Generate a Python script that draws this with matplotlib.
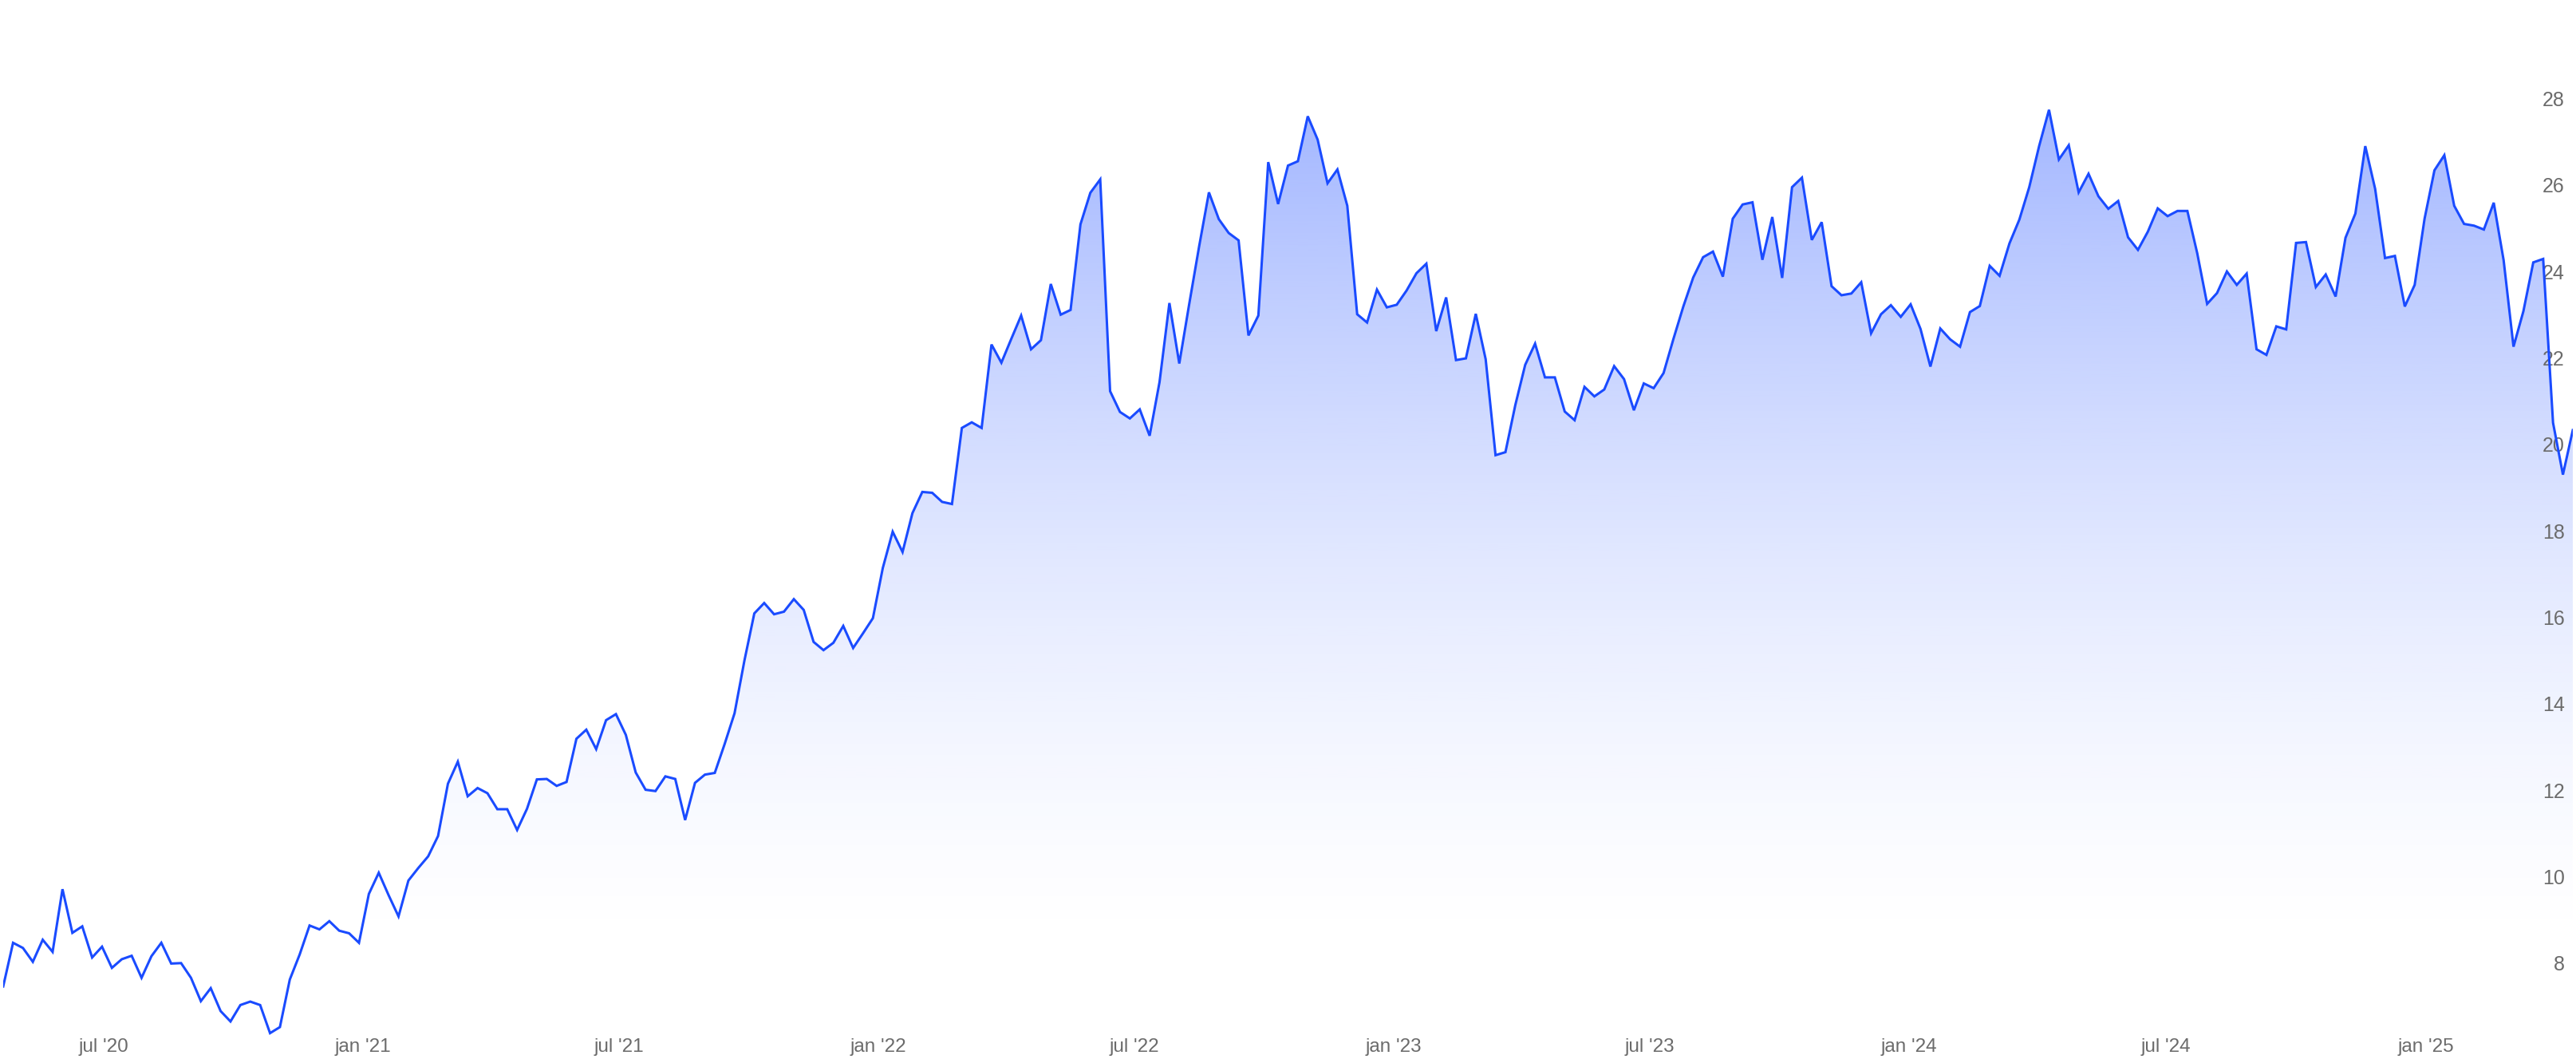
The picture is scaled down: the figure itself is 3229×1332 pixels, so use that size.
import numpy as np
import pandas as pd
import matplotlib
matplotlib.use("Agg")
import matplotlib.pyplot as plt
import matplotlib.dates as mdates

# weekly closes, first week 2020-04-21
start_date = "2020-04-21"
prices = [
    7.46, 8.47, 8.35, 8.03, 8.54, 8.26, 9.71, 8.70, 8.85, 8.13,
    8.38, 7.89, 8.09, 8.17, 7.66, 8.16, 8.47, 7.99, 8.00, 7.66,
    7.12, 7.42, 6.89, 6.65, 7.03, 7.11, 7.03, 6.38, 6.52, 7.62,
    8.20, 8.87, 8.78, 8.97, 8.75, 8.69, 8.47, 9.60, 10.09, 9.57,
    9.08, 9.91, 10.20, 10.47, 10.94, 12.15, 12.66, 11.86, 12.05, 11.93,
    11.56, 11.56, 11.08, 11.57, 12.25, 12.26, 12.10, 12.19, 13.19, 13.40,
    12.95, 13.62, 13.76, 13.28, 12.41, 12.01, 11.98, 12.32, 12.26, 11.31,
    12.17, 12.36, 12.40, 13.07, 13.78, 15.00, 16.09, 16.33, 16.07, 16.13,
    16.42, 16.17, 15.43, 15.24, 15.41, 15.80, 15.29, 15.63, 15.98, 17.14,
    17.98, 17.51, 18.41, 18.90, 18.88, 18.67, 18.62, 20.38, 20.51, 20.38,
    22.31, 21.89, 22.44, 22.98, 22.20, 22.41, 23.71, 23.00, 23.11, 25.09,
    25.82, 26.13, 21.23, 20.75, 20.60, 20.81, 20.20, 21.44, 23.27, 21.87,
    23.24, 24.57, 25.83, 25.21, 24.89, 24.72, 22.52, 22.98, 26.53, 25.56,
    26.45, 26.55, 27.59, 27.05, 26.04, 26.36, 25.52, 23.01, 22.82, 23.58,
    23.17, 23.23, 23.56, 23.96, 24.18, 22.62, 23.40, 21.95, 21.99, 23.02,
    21.97, 19.75, 19.82, 20.91, 21.84, 22.33, 21.55, 21.55, 20.76, 20.56,
    21.33, 21.11, 21.27, 21.81, 21.51, 20.79, 21.41, 21.30, 21.65, 22.44,
    23.19, 23.86, 24.33, 24.46, 23.88, 25.22, 25.55, 25.60, 24.27, 25.26,
    23.85, 25.95, 26.17, 24.73, 25.14, 23.66, 23.45, 23.49, 23.75, 22.57,
    23.01, 23.22, 22.95, 23.24, 22.67, 21.80, 22.68, 22.43, 22.26, 23.06,
    23.20, 24.13, 23.90, 24.65, 25.20, 25.95, 26.90, 27.74, 26.59, 26.92,
    25.83, 26.26, 25.74, 25.45, 25.63, 24.79, 24.50, 24.92, 25.46, 25.28,
    25.40, 25.40, 24.42, 23.25, 23.50, 24.00, 23.69, 23.95, 22.20, 22.07,
    22.73, 22.66, 24.66, 24.68, 23.64, 23.93, 23.42, 24.78, 25.34, 26.90,
    25.91, 24.31, 24.36, 23.19, 23.69, 25.22, 26.34, 26.69, 25.52, 25.10,
    25.06, 24.97, 25.59, 24.26, 22.26, 23.08, 24.21, 24.29, 20.50, 19.30,
    20.33,
]

x_tick_dates = ["2020-07-01", "2021-01-01", "2021-07-01", "2022-01-01", "2022-07-01",
                "2023-01-01", "2023-07-01", "2024-01-01", "2024-07-01", "2025-01-01"]
x_tick_labels = ["jul '20", "jan '21", "jul '21", "jan '22", "jul '22",
                 "jan '23", "jul '23", "jan '24", "jul '24", "jan '25"]
y_ticks = [8, 10, 12, 14, 16, 18, 20, 22, 24, 26, 28]

line_color = "#1a4bff"
label_color = "#6b6b6b"

dates = pd.date_range(start_date, periods=len(prices), freq="7D")
y_bottom, y_top = 6.28, 30.28

fig = plt.figure(figsize=(32.3, 13.32), dpi=100)
ax = fig.add_axes([4 / 3230, 32 / 1332, 3221 / 3230, 1300 / 1332])

# area under the curve, filled with a vertical fade
area = ax.fill_between(dates, prices, y_bottom, facecolor="none", edgecolor="none")
levels = np.linspace(y_top, y_bottom, 600)
alpha = 0.40 * np.clip((levels - 8.1) / 19.6, 0, None) ** 1.5
grad = np.zeros((len(levels), 1, 4))
grad[:, 0, :3] = matplotlib.colors.to_rgb(line_color)
grad[:, 0, 3] = alpha
x0, x1 = mdates.date2num(dates[0]), mdates.date2num(dates[-1])
img = ax.imshow(grad, extent=[x0, x1, y_bottom, y_top], aspect="auto",
                origin="upper", interpolation="bilinear", zorder=1)
img.set_clip_path(area.get_paths()[0], transform=ax.transData)

ax.plot(dates, prices, color=line_color, linewidth=2.2, solid_joinstyle="miter", zorder=3)

ax.set_xlim(dates[0], dates[-1])
ax.set_ylim(y_bottom, y_top)

ax.set_xticks(pd.to_datetime(x_tick_dates))
ax.set_xticklabels(x_tick_labels)
ax.set_yticks(y_ticks)
ax.set_yticklabels([str(v) for v in y_ticks])

ax.tick_params(axis="x", length=0, pad=1, labelsize=17.5, labelcolor=label_color)
ax.yaxis.tick_right()
ax.tick_params(axis="y", length=0, pad=-7.2, labelsize=18, labelcolor=label_color)
for tick in ax.yaxis.get_major_ticks():
    tick.label2.set_horizontalalignment("right")
for lbl in ax.get_xticklabels() + ax.get_yticklabels():
    lbl.set_fontfamily("Liberation Sans")

for side in ax.spines.values():
    side.set_visible(False)
ax.set_facecolor("none")

fig.savefig("out.png", dpi=100, facecolor="white")
